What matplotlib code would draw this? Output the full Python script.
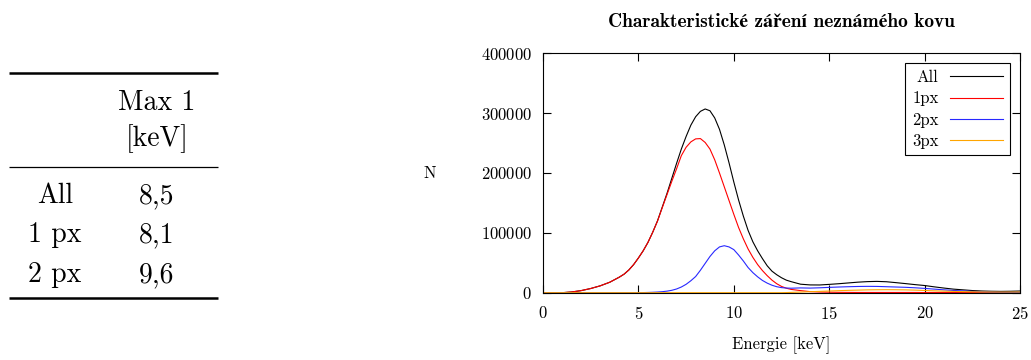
import matplotlib
matplotlib.use("Agg")
import matplotlib.pyplot as plt

# energie [keV]
energy = [0, 0.5, 1, 1.5, 2, 2.5, 3, 3.5, 4,
          4.25, 4.5, 4.75, 5, 5.25, 5.5, 5.75, 6, 6.25, 6.5, 6.75, 7, 7.25,
          7.5, 7.75, 8, 8.25, 8.5, 8.75, 9, 9.25, 9.5, 9.75, 10, 10.25, 10.5,
          10.75, 11, 11.25, 11.5, 11.75, 12, 12.25, 12.5, 12.75, 13,
          13.5, 14, 14.5, 15, 15.5, 16, 16.5, 17, 17.5, 18, 18.5, 19, 19.5,
          20, 20.5, 21, 21.5, 22, 22.5, 23, 23.5, 24, 24.5, 25]

n_all = [0, 0, 0, 1200, 3500, 7000, 11500, 17500, 26000,
         31000, 38000, 47000, 58000, 70000, 84000, 101000, 120000, 143000,
         166000, 191000, 216000, 240000, 261000, 280000, 294000, 303000,
         307000, 304000, 292000, 273000, 247000, 217000, 185000, 155000,
         128000, 104000, 85000, 70000, 57000, 45000, 36000, 30000, 25000,
         21000, 18500,
         14200, 13000, 12900, 13900, 15000, 16300, 17600, 18500, 18900, 18300,
         16800, 15200, 13500, 12000, 9800, 7800, 6000, 4800, 3600, 2800, 2400,
         2200, 2400, 2800]

n_1px = [0, 0, 0, 1200, 3500, 7000, 11500, 17500, 26000,
         31000, 38000, 47000, 58000, 70000, 84000, 101000, 119500, 142000,
         164000, 186000, 207000, 229000, 243000, 252000, 257000, 257500,
         251000, 240000, 222000, 200000, 177000, 154000, 131000, 109000,
         90000, 73000, 59000, 47000, 37000, 28500, 21000, 15000, 10500,
         7500, 5500,
         3500, 1800, 1100, 800, 600, 500, 400, 400, 400, 400, 400, 400, 400,
         300, 300, 300, 300, 300, 300, 300, 300, 300, 300, 300]

n_2px = [0, 0, 0, 0, 0, 0, 0, 0, 0,
         0, 0, 0, 0, 200, 400, 700, 1100, 1700, 2600, 4000, 6200, 9500, 14000,
         20000, 27000, 37500, 49000, 60500, 70000, 76500, 78500, 76500, 72000,
         63000, 53000, 42000, 33500, 26500, 20500, 16000, 12500, 10000, 8500,
         7800, 7500,
         8000, 7700, 8200, 8900, 9500, 10000, 10400, 10600, 10500, 10000,
         9500, 9000, 8200, 7200, 6000, 4800, 3800, 3000, 2200, 1600, 1100,
         800, 600, 500]

n_3px = [0, 0, 0, 0, 0, 0, 0, 0, 0,
         0, 0, 0, 0, 0, 0, 0, 0, 0, 0, 0, 0, 0, 0, 0, 0, 0, 0, 0, 0, 0, 0, 0,
         0, 0, 0, 0, 0, 0, 0, 0, 0, 0, 0, 200, 500,
         1100, 1700, 2200, 2800, 3400, 3900, 4300, 4700, 4900, 5000, 4900,
         4700, 4300, 3700, 3100, 2600, 2200, 1800, 1500, 1300, 1200, 1100,
         1100, 1100]

# tabulka vlevo
row_labels = ["All", "1 px", "2 px"]
max1 = ["8,5", "8,1", "9,6"]
header = ["Max 1", "[keV]"]

x_ticks = [0, 5, 10, 15, 20, 25]
y_ticks = [0, 100000, 200000, 300000, 400000]

plt.rcParams["font.family"] = ["cmr10", "STIXGeneral"]
plt.rcParams["mathtext.fontset"] = "cm"
plt.rcParams["axes.formatter.use_mathtext"] = True

fig = plt.figure(figsize=(10.31, 3.6), dpi=100)

# tabulka - souradnice v pixelech
ax_t = fig.add_axes([0, 0, 1, 1])
ax_t.set_xlim(0, 1031)
ax_t.set_ylim(360, 0)
ax_t.axis("off")
ax_t.hlines([73, 298], 9, 218, colors="black", lw=1.8)
ax_t.hlines([167], 9, 218, colors="black", lw=0.9)
ts = 20
ax_t.text(157, 110, header[0], ha="center", va="baseline", fontsize=ts)
ax_t.text(157, 146, header[1], ha="center", va="baseline", fontsize=ts)
for i, (lab, val) in enumerate(zip(row_labels, max1)):
    yb = 203 + 39.5 * i
    ax_t.text(55, yb, lab, ha="center", va="baseline", fontsize=ts)
    ax_t.text(157, yb, val, ha="center", va="baseline", fontsize=ts)

# graf
fs = 12
ax = fig.add_axes([543 / 1031, 67.3 / 360, 477 / 1031, 239.4 / 360])
ax.plot(energy, n_all, color="black", lw=0.8, label="All")
ax.plot(energy, n_1px, color="#ff0000", lw=0.8, label="1px")
ax.plot(energy, n_2px, color="#2828ff", lw=0.8, label="2px")
ax.plot(energy, n_3px, color="#ffa500", lw=0.8, label="3px")

ax.set_xlim(0, 25)
ax.set_ylim(0, 400000)
ax.set_xticks(x_ticks)
ax.set_yticks(y_ticks)
ax.tick_params(direction="in", top=True, right=True, length=6, width=0.8,
               labelsize=fs)
ax.tick_params(axis="x", pad=9)
ax.tick_params(axis="y", pad=8)
for s in ax.spines.values():
    s.set_linewidth(0.8)

ax.set_xlabel("Energie [keV]", fontsize=fs, labelpad=10)
ax.set_ylabel("N", fontsize=fs, rotation=0, va="center", ha="center")
ax.yaxis.set_label_coords(-0.237, 0.5)
ax.set_title("Charakteristické záření neznámého kovu", fontsize=14, pad=19,
             family=["cmb10", "STIXGeneral"], weight="bold")

leg = ax.legend(loc="upper right", markerfirst=False, handlelength=3.2,
                handletextpad=0.7, borderpad=0.4, labelspacing=0.35,
                borderaxespad=0.6, fancybox=False, edgecolor="black",
                framealpha=1, fontsize=fs)
leg.get_frame().set_linewidth(0.8)

fig.savefig("out.png", dpi=100)
